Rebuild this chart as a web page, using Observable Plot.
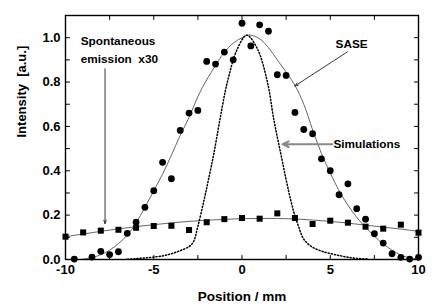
<!DOCTYPE html>
<html>
<head>
<meta charset="utf-8">
<script src="https://cdn.jsdelivr.net/npm/d3@7"></script>
<script src="https://cdn.jsdelivr.net/npm/@observablehq/plot@0.6"></script>
<style>
  html, body { margin: 0; padding: 0; background: #fff; }
  svg { display: block; }
</style>
</head>
<body>
<div id="chart"></div>
<script>
// SASE measured intensity (circles)
const saseX = [-9.5,-8.5,-8,-7.5,-7,-6.5,-6,-5.5,-5,-4.5,-4,-3.5,-3,-2.5,-2,-1.5,-1,-0.5,0,0.5,1,1.5,2,2.5,3,3.5,4,4.5,5,5.5,6,6.5,7,7.5,8,8.5,9,9.5,10];
const saseY = [0.002,0.011,0.037,0.022,0.035,0.118,0.168,0.235,0.31,0.438,0.364,0.582,0.66,0.672,0.893,0.881,0.935,0.90,1.065,0.963,1.058,1.029,0.833,0.83,0.663,0.586,0.567,0.454,0.40,0.292,0.341,0.229,0.182,0.116,0.074,0.026,0.01,0.002,0.01];

// Spontaneous emission x30 (squares)
const spontX = [-10,-9,-8,-7,-6,-5,-4,-3,-2,-1,0,1,2,3,4,5,6,7,8,9,10];
const spontY = [0.103,0.122,0.13,0.134,0.143,0.151,0.152,0.133,0.168,0.182,0.187,0.184,0.208,0.187,0.16,0.175,0.166,0.148,0.139,0.157,0.121];

// SASE fit curve (solid)
const saseFitX = [-9.2,-8.5,-8,-7.5,-7,-6.5,-6,-5.5,-5,-4.5,-4,-3.5,-3,-2.5,-2,-1.5,-1,-0.5,0,0.4,1,1.5,2,2.5,3,3.5,4,4.5,5,5.5,6,6.5,7,7.5,8,8.5,9,9.5,10];
const saseFitY = [0.0,0.008,0.022,0.042,0.072,0.11,0.165,0.235,0.31,0.385,0.47,0.56,0.64,0.735,0.81,0.875,0.935,0.975,1.0,1.012,0.995,0.955,0.9,0.845,0.785,0.70,0.585,0.478,0.39,0.31,0.245,0.19,0.145,0.105,0.07,0.042,0.02,0.007,0.001];

// Simulation curve (dotted)
const simX = [-6.5,-6,-5.5,-5,-4.5,-4,-3.5,-3,-2.75,-2.5,-2.15,-1.9,-1.59,-1.23,-0.83,-0.26,0.27,0.87,1.44,1.81,2.19,2.5,2.76,2.95,3.2,3.51,4,4.5,4.84,5.5,6,6.5,7.1];
const simY = [0.001,0.004,0.007,0.011,0.016,0.026,0.04,0.058,0.08,0.15,0.268,0.36,0.48,0.64,0.80,0.95,1.011,0.95,0.80,0.628,0.48,0.36,0.268,0.21,0.15,0.09,0.055,0.038,0.03,0.018,0.01,0.005,0.002];

// Spontaneous fit curve (solid)
const spontFitX = [-10,-9,-8,-7,-6,-5,-4,-3,-2,-1,0,1,2,3,4,5,6,7,8,9,10];
const spontFitY = [0.103,0.115,0.127,0.138,0.148,0.157,0.165,0.172,0.177,0.181,0.184,0.185,0.185,0.183,0.178,0.172,0.164,0.155,0.146,0.137,0.127];

// Axis ticks
const xTicksMajor = [-10,-5,0,5,10];
const xTicksAll = [-10,-7.5,-5,-2.5,0,2.5,5,7.5,10];
const yTicksMajor = [0,0.2,0.4,0.6,0.8,1.0];
const yTicksAll = [0,0.1,0.2,0.3,0.4,0.5,0.6,0.7,0.8,0.9,1.0,1.1];

// Annotations
const labels = [
  {text: "Spontaneous", x: -9.14, y: 0.985},
  {text: "emission\u00a0 x30", x: -9.14, y: 0.903},
  {text: "SASE", x: 5.3, y: 0.971},
  {text: "Simulations", x: 5.18, y: 0.52}
];
const arrows = [
  {x1: -7.76, y1: 0.86, x2: -7.76, y2: 0.162, kind: "spont"},
  {x1: 5.97, y1: 0.936, x2: 2.99, y2: 0.782, kind: "sase"},
  {x1: 5.12, y1: 0.52, x2: 2.3, y2: 0.52, kind: "sim"}
];

const pts = (xs, ys) => xs.map((x, i) => ({x, y: ys[i]}));
const tickLine = {draw(ctx, l) { ctx.moveTo(0, 0); ctx.lineTo(0, -l); }};
const font = "Liberation Sans, Arial, Helvetica, sans-serif";

const chart = Plot.plot({
  width: 440,
  height: 306,
  marginLeft: 65,
  marginRight: 22,
  marginTop: 15,
  marginBottom: 47,
  style: {fontFamily: font, background: "#fff"},
  x: {domain: [-10, 10]},
  y: {domain: [0, 1.1]},
  marks: [
    Plot.line(pts(spontFitX, spontFitY), {x: "x", y: "y", stroke: "#555", strokeWidth: 0.9, curve: "natural"}),
    Plot.line(pts(saseFitX, saseFitY), {x: "x", y: "y", stroke: "#555", strokeWidth: 0.9, curve: "catmull-rom"}),
    Plot.line(pts(simX, simY), {x: "x", y: "y", stroke: "#000", strokeWidth: 1.5, strokeDasharray: "1.2 2", curve: "catmull-rom"}),
    Plot.dot(pts(spontX, spontY), {x: "x", y: "y", symbol: "square", r: 3.4, fill: "#000", stroke: "none"}),
    Plot.dot(pts(saseX, saseY), {x: "x", y: "y", symbol: "circle", r: 3.4, fill: "#000", stroke: "none"}),
    Plot.arrow(arrows.filter(d => d.kind !== "sim"), {x1: "x1", y1: "y1", x2: "x2", y2: "y2", stroke: "#222", strokeWidth: 0.9, headLength: 6, headAngle: 40}),
    Plot.arrow(arrows.filter(d => d.kind === "sim"), {x1: "x1", y1: "y1", x2: "x2", y2: "y2", stroke: "#888", strokeWidth: 2, headLength: 5, headAngle: 50}),
    Plot.text(labels, {x: "x", y: "y", text: "text", textAnchor: "start", fontSize: 11.8, fontWeight: "bold", fill: "#000"}),
    // ticks (inward)
    Plot.vector(xTicksAll, {x: d => d, y: 0, length: 4, anchor: "start", rotate: 0, shape: tickLine, stroke: "#000", strokeWidth: 1}),
    Plot.vector(xTicksAll, {x: d => d, y: 1.1, length: 4, anchor: "start", rotate: 180, shape: tickLine, stroke: "#000", strokeWidth: 1}),
    Plot.vector(yTicksAll, {x: -10, y: d => d, length: 4, anchor: "start", rotate: 90, shape: tickLine, stroke: "#000", strokeWidth: 1}),
    Plot.vector(yTicksAll, {x: 10, y: d => d, length: 4, anchor: "start", rotate: -90, shape: tickLine, stroke: "#000", strokeWidth: 1}),
    Plot.axisX({ticks: xTicksMajor, tickSize: 0, tickPadding: 5, tickFormat: d => String(d), fontSize: 13, fontWeight: "bold", label: null, fill: "#000"}),
    Plot.axisY({ticks: yTicksMajor, tickSize: 0, tickPadding: 5, tickFormat: d => d.toFixed(1), fontSize: 13, fontWeight: "bold", label: null, fill: "#000"}),
    Plot.text(["Position / mm"], {frameAnchor: "bottom", dy: 41, fontSize: 13.5, fontWeight: "bold", fill: "#000"}),
    Plot.text(["Intensity\u00a0 [a.u.]"], {frameAnchor: "left", dx: -44, rotate: -90, fontSize: 13, fontWeight: "bold", fill: "#000"}),
    Plot.frame({stroke: "#000", strokeWidth: 1.4})
  ]
});
document.getElementById("chart").appendChild(chart);
</script>
</body>
</html>
